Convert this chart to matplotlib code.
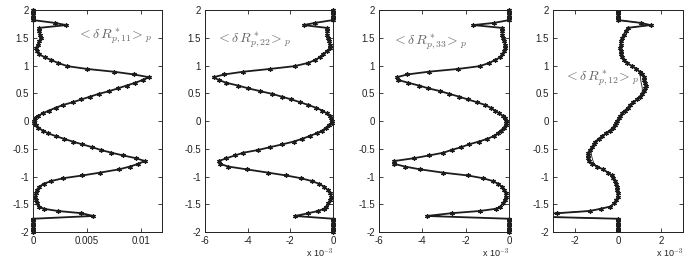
import numpy as np
import matplotlib
matplotlib.use('Agg')
import matplotlib.pyplot as plt

plt.rcParams['font.family'] = ['Liberation Sans', 'DejaVu Sans']
plt.rcParams['mathtext.fontset'] = 'cm'
plt.rcParams['axes.unicode_minus'] = False

# wall-normal coordinate (shared by all profiles)
y = [2.00, 1.97, 1.94, 1.91, 1.88, 1.85, 1.82,
     1.77, 1.73, 1.68, 1.62, 1.56, 1.50, 1.44, 1.38, 1.32, 1.26,
     1.20, 1.15, 1.10, 1.05, 0.99, 0.94, 0.89, 0.84, 0.79, 0.74,
     0.69, 0.64, 0.59, 0.54, 0.49, 0.44, 0.39, 0.34, 0.29, 0.24,
     0.19, 0.14, 0.09, 0.05, 0.01,
     -0.03, -0.07, -0.12, -0.17, -0.22, -0.27, -0.32, -0.37, -0.42, -0.47,
     -0.52, -0.57, -0.62, -0.67, -0.72, -0.77, -0.82, -0.87, -0.93, -0.98,
     -1.03, -1.08, -1.13, -1.18, -1.24, -1.30, -1.36, -1.42, -1.48, -1.54,
     -1.58, -1.62, -1.66, -1.71,
     -1.76, -1.79, -1.82, -1.85, -1.88, -1.91, -1.94, -1.97, -2.00]

# profiles, in units of 1e-3
r11 = [0, 0, 0, 0, 0, 0, 0,
       2.0, 3.1, 0.6, 0.55, 0.65, 0.7, 0.6, 0.45, 0.3, 0.35,
       0.6, 1.1, 1.7, 2.3, 3.2, 5.0, 7.5, 9.4, 10.8, 10.2,
       9.5, 8.7, 7.9, 7.1, 6.1, 5.3, 4.5, 3.7, 2.8, 2.1,
       1.5, 0.9, 0.45, 0.15, 0.05,
       0.05, 0.25, 0.5, 0.9, 1.4, 2.1, 2.9, 3.7, 4.6, 5.5,
       6.3, 7.3, 8.4, 9.6, 10.4, 9.8, 9.0, 8.0, 6.2, 4.6,
       2.8, 1.7, 1.0, 0.6, 0.35, 0.25, 0.2, 0.3, 0.4, 0.6,
       1.0, 2.3, 4.5, 5.6,
       0, 0, 0, 0, 0, 0, 0, 0, 0]

r22 = [0, 0, 0, 0, 0, 0, 0,
       -0.84, -1.38, -0.30, -0.28, -0.27, -0.25, -0.20, -0.15, -0.14, -0.28,
       -0.48, -0.62, -0.85, -1.15, -1.8, -2.95, -4.2, -5.1, -5.6, -5.35,
       -5.0, -4.45, -3.97, -3.42, -2.85, -2.4, -1.95, -1.55, -1.15, -0.8,
       -0.5, -0.3, -0.16, -0.08, -0.04,
       -0.06, -0.2, -0.33, -0.5, -0.77, -1.1, -1.45, -1.85, -2.38, -2.95,
       -3.5, -4.2, -4.6, -5.0, -5.35, -5.3, -4.9, -4.05, -3.03, -2.2,
       -1.5, -1.0, -0.65, -0.42, -0.25, -0.12, -0.08, -0.12, -0.22, -0.32,
       -0.42, -0.7, -1.15, -1.78,
       0, 0, 0, 0, 0, 0, 0, 0, 0]

r33 = [0, 0, 0, 0, 0, 0, 0,
       -0.68, -1.65, -0.34, -0.3, -0.3, -0.28, -0.22, -0.18, -0.17, -0.22,
       -0.3, -0.4, -0.65, -0.9, -1.35, -2.34, -3.7, -4.7, -5.18, -5.1,
       -4.65, -4.15, -3.72, -3.18, -2.75, -2.3, -1.9, -1.48, -1.1, -0.85,
       -0.65, -0.45, -0.27, -0.18, -0.12,
       -0.13, -0.16, -0.25, -0.38, -0.52, -0.7, -1.0, -1.4, -1.85, -2.2,
       -2.65, -3.03, -3.7, -4.4, -5.3, -5.3, -4.8, -4.1, -3.03, -1.9,
       -1.2, -0.75, -0.5, -0.33, -0.22, -0.15, -0.15, -0.2, -0.28, -0.4,
       -0.6, -1.34, -2.65, -3.8,
       0, 0, 0, 0, 0, 0, 0, 0, 0]

r12 = [0, 0, 0, 0, 0, 0, 0,
       1.04, 1.5, 0.45, 0.35, 0.27, 0.19, 0.15, 0.12, 0.11, 0.12,
       0.14, 0.18, 0.26, 0.4, 0.65, 0.85, 1.0, 1.12, 1.22, 1.22,
       1.25, 1.28, 1.25, 1.19, 1.1, 1.0, 0.88, 0.7, 0.55, 0.45,
       0.32, 0.2, 0.1, 0.03, -0.04,
       -0.1, -0.15, -0.24, -0.38, -0.55, -0.72, -0.9, -1.04, -1.12, -1.2,
       -1.3, -1.37, -1.39, -1.38, -1.36, -1.2, -0.95, -0.7, -0.45, -0.3,
       -0.22, -0.13, -0.08, -0.05, -0.03, -0.01, -0.02, -0.08, -0.18, -0.35,
       -0.8, -1.3, -2.8, -5.0,
       0, 0, 0, 0, 0, 0, 0, 0, 0]

# second (thin) curve of the 12 component
r12b = [0, 0, 0, 0, 0, 0, 0,
        1.04, 1.5, 0.45, 0.35, 0.27, 0.19, 0.15, 0.12, 0.11, 0.12,
        0.14, 0.18, 0.26, 0.4, 0.65, 0.85, 0.98, 1.0, 1.04, 1.05,
        1.07, 1.1, 1.12, 1.12, 1.08, 1.0, 0.88, 0.7, 0.55, 0.45,
        0.32, 0.2, 0.1, 0.03, -0.04,
        -0.1, -0.15, -0.24, -0.38, -0.55, -0.72, -0.9, -1.02, -1.08, -1.12,
        -1.2, -1.24, -1.22, -1.19, -1.15, -1.1, -0.95, -0.7, -0.45, -0.3,
        -0.22, -0.13, -0.08, -0.05, -0.03, -0.01, -0.02, -0.08, -0.18, -0.35,
        -0.8, -1.3, -2.8, -5.0,
        0, 0, 0, 0, 0, 0, 0, 0, 0]

labels = [r'$<\delta\,R^*_{p,11}\!>_p$', r'$<\delta\,R^*_{p,22}\!>_p$',
          r'$<\delta\,R^*_{p,33}\!>_p$', r'$<\delta\,R^*_{p,12}\!>_p$']

yticks = [-2, -1.5, -1, -0.5, 0, 0.5, 1, 1.5, 2]
ytick_labels = ['-2', '-1.5', '-1', '-0.5', '0', '0.5', '1', '1.5', '2']

fig = plt.figure(figsize=(6.85, 2.59), dpi=100)
lefts = [33, 205, 379, 553]
widths = [129, 128, 130, 130]
axes = [fig.add_axes([l / 685, 0.104, w / 685, 0.857]) for l, w in zip(lefts, widths)]

lc = '#1c1c1c'
star = (6, 2, 0)
y = np.array(y)
mk = dict(color=lc, lw=1.3, marker=star, ms=3.2, mew=0.9)

ax1, ax2, ax3, ax4 = axes
ax1.plot(np.array(r11) * 1e-3, y, clip_on=False, **mk)
ax2.plot(r22, y, clip_on=False, **mk)
ax3.plot(r33, y, clip_on=False, **mk)
ax4.plot(r12b, y, color=lc, lw=0.6)
ax4.plot(r12, y, **mk)

ax1.set_xlim(0, 0.012)
ax1.set_xticks([0, 0.005, 0.01])
ax1.set_xticklabels(['0', '0.005', '0.01'])
for ax in (ax2, ax3):
    ax.set_xlim(-6, 0)
    ax.set_xticks([-6, -4, -2, 0])
    ax.set_xticklabels(['-6', '-4', '-2', '0'])
ax4.set_xlim(-3, 3)
ax4.set_xticks([-2, 0, 2])
ax4.set_xticklabels(['-2', '0', '2'])

for ax in axes:
    ax.set_ylim(-2, 2)
    ax.set_yticks(yticks)
    ax.set_yticklabels(ytick_labels)
    ax.tick_params(direction='in', top=True, right=True, length=3, width=0.6,
                   labelsize=7, colors='#222222', pad=3)
    for s in ax.spines.values():
        s.set_linewidth(0.7)
        s.set_color('#222222')

for ax in (ax2, ax3, ax4):
    ax.text(1.0, -0.112, r'x 10$^{-3}$', transform=ax.transAxes, ha='right',
            va='baseline', fontsize=6.5, color='#222222')

label_pos = [(ax1, 0.0041, 1.53), (ax2, -5.48, 1.46), (ax3, -5.4, 1.43), (ax4, -2.5, 0.77)]
for (ax, tx, ty), lab in zip(label_pos, labels):
    ax.text(tx, ty, lab, ha='left', va='center', fontsize=10, color='#666666')

fig.savefig('out.png', dpi=100)
